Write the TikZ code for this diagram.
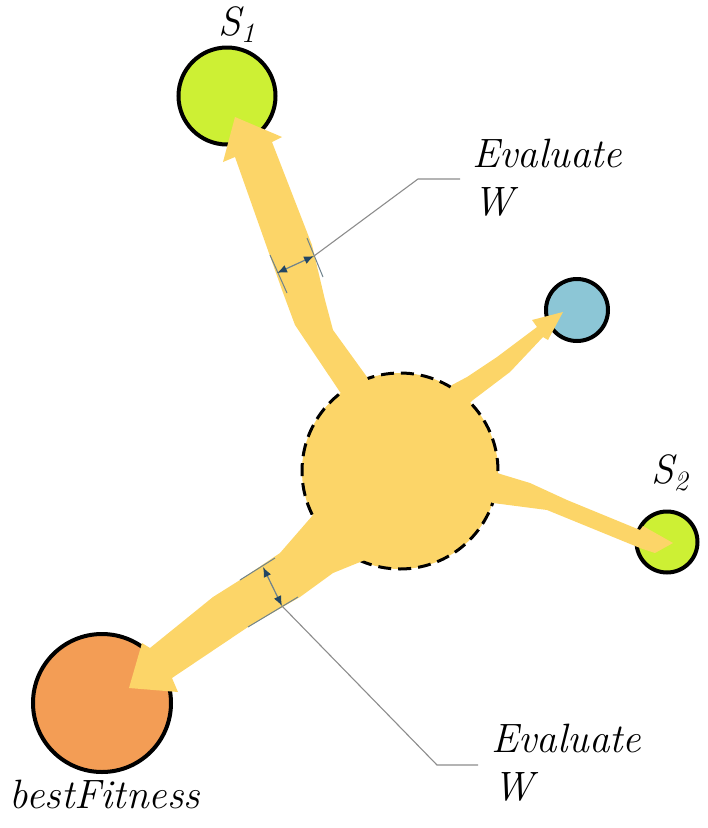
\documentclass[tikz,border=0pt]{standalone}
\usetikzlibrary{arrows.meta}
\definecolor{flow}{RGB}{252,213,104}
\definecolor{lime}{RGB}{205,240,52}
\definecolor{sky}{RGB}{140,198,214}
\definecolor{peach}{RGB}{243,157,85}
\definecolor{dimhead}{RGB}{35,70,100}
\definecolor{dimline}{RGB}{110,130,140}
\definecolor{leader}{RGB}{140,140,140}
\newcommand{\lowidx}[1]{\raisebox{-7pt}{\fontsize{28}{30}\selectfont #1}}
\begin{document}
\begin{tikzpicture}[x=1pt,y=-1pt,
  ball/.style={circle,draw=black,line width=4pt,inner sep=0pt},
  hub/.style={circle,fill=flow,draw=black,line width=3pt,dash pattern=on 13pt off 7pt,inner sep=0pt,minimum size=196pt},
  flowarrow/.style={fill=flow,draw=none},
  lab/.style={inner sep=0pt,font=\fontsize{41}{48}\selectfont\itshape},
  extline/.style={draw=dimline,line width=1pt},
  dimarrow/.style={draw=dimline,line width=1.2pt,{Latex[length=10pt,width=8pt,color=dimhead]}-{Latex[length=10pt,width=8pt,color=dimhead]}},
  leaderline/.style={draw=leader,line width=1.1pt}]
\useasboundingbox (0,0) rectangle (708,828);
% nodes
\node[hub] (c) at (400,471) {};
\node[ball,fill=lime,minimum size=97pt] (s1) at (227,96) {};
\node[ball,fill=sky,minimum size=62pt] (b) at (577,310) {};
\node[ball,fill=lime,minimum size=61pt] (s2) at (667,542) {};
\node[ball,fill=peach,minimum size=138pt] (best) at (102,703) {};
% flow arrows
\path[flowarrow] (c.center) -- (340,392) -- (295,325) -- (282,290) -- (235,157) -- (223,162) -- (235,117) -- (282,137) -- (272,142) -- (312,245) -- (325,300) -- (333,330) -- (367,377) -- cycle;
\path[flowarrow] (c.center) -- (452,385) -- (467,377) -- (497,357) -- (537,327) -- (532,320) -- (563,312) -- (548,340) -- (543,337) -- (510,372) -- (473,400) -- (460,412) -- cycle;
\path[flowarrow] (c.center) -- (497,473) -- (530,483) -- (567,500) -- (640,530) -- (643,526) -- (673,543) -- (655,553) -- (640,548) -- (547,510) -- (493,503) -- cycle;
\path[flowarrow] (c.center) -- (313,515) -- (280,553) -- (240,580) -- (213,597) -- (150,648) -- (142,643) -- (129,688) -- (178,692) -- (172,678) -- (248,627) -- (300,597) -- (333,573) -- (365,560) -- cycle;
% dimension marks, top
\coordinate (d1a) at (277,273);
\coordinate (d1b) at (314,256);
\draw[extline] (270,255) -- (287,293);
\draw[extline] (307,238) -- (323,277);
\draw[dimarrow] (d1a) -- (d1b);
% dimension marks, bottom
\coordinate (d2a) at (263,567);
\coordinate (d2b) at (282,606);
\draw[extline] (240,580) -- (275,558);
\draw[extline] (248,627) -- (298,597);
\draw[dimarrow] (d2a) -- (d2b);
% labels
\node[lab,anchor=base west] (e1) at (472,167) {Evaluate};
\node[lab,anchor=base west] (w1) at (473,215) {W};
\node[lab,anchor=base west] (e2) at (491,752) {Evaluate};
\node[lab,anchor=base west] (w2) at (493,800) {W};
\node[lab,anchor=base] (bf) at (105,808) {bestFitness};
\node[lab,anchor=base west] (l1) at (218,35) {S\lowidx{1}};
\node[lab,anchor=base west] (l2) at (651,483) {S\lowidx{2}};
% leaders
\coordinate (k1) at (418,179);
\coordinate (k2) at (437,765);
\draw[leaderline] (d1b) -- (k1) -- (460,179);
\draw[leaderline] (d2b) -- (k2) -- (478,765);
\end{tikzpicture}
\end{document}
